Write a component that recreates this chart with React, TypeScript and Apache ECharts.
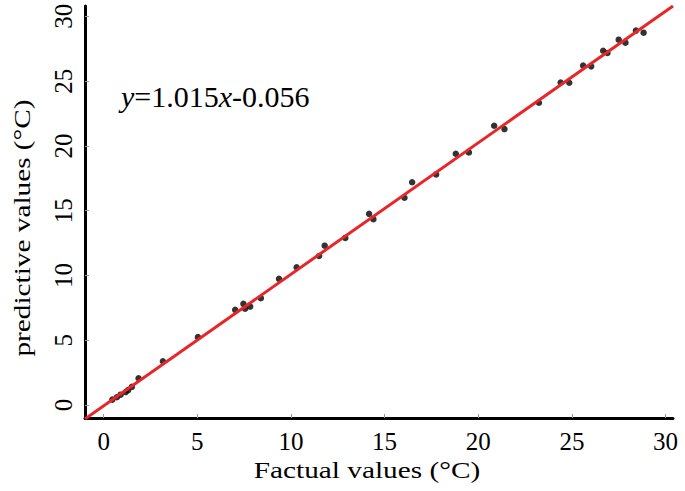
import React, { useEffect, useRef } from "react";
import * as echarts from "echarts";

const tickValues = [0, 5, 10, 15, 20, 25, 30];
const factual = [0.46, 0.7, 0.9, 1.17, 1.3, 1.5, 1.86, 3.16, 5.03, 7.02, 7.46, 7.55, 7.82, 8.39, 9.36, 10.3, 11.5, 11.8, 12.9, 14.17, 14.4, 16.06, 16.47, 17.75, 18.8, 19.5, 20.85, 21.4, 23.24, 24.4, 24.86, 25.6, 26.03, 26.67, 26.9, 27.5, 27.86, 28.42, 28.83];
const predictive = [0.42, 0.6, 0.8, 1.0, 1.15, 1.4, 2.07, 3.38, 5.24, 7.35, 7.81, 7.43, 7.6, 8.25, 9.74, 10.64, 11.5, 12.3, 12.9, 14.76, 14.35, 16.0, 17.2, 17.8, 19.4, 19.5, 21.56, 21.3, 23.33, 24.9, 24.88, 26.2, 26.14, 27.35, 27.17, 28.2, 27.97, 28.9, 28.74];
const slope = 1.015;
const intercept = -0.056;
const fitX = [-1, 30.4];
const equationParts = [
  { text: "y", italic: true },
  { text: "=1.015", italic: false },
  { text: "x", italic: true },
  { text: "-0.056", italic: false },
];

const SERIF = "Liberation Serif";

export default function App() {
  const ref = useRef<HTMLDivElement>(null);
  useEffect(() => {
    if (!ref.current) return;
    const chart = echarts.init(ref.current, undefined, { renderer: "svg" });
    const points = factual.map((x, i) => [x, predictive[i]]);
    const fit = fitX.map((x) => [x, slope * x + intercept]);
    const axisCommon = {
      axisLine: { show: true, onZero: false, lineStyle: { color: "#000", width: 3 } },
      axisTick: { show: true, inside: true, length: 4, lineStyle: { color: "#999", width: 1 }, customValues: tickValues },
      splitLine: { show: false },
    };

    let cursor = 121;
    const eqTexts = equationParts.map((p) => {
      const style: any = {
        text: p.text,
        fontFamily: SERIF,
        fontSize: 30,
        fill: "#000",
        textVerticalAlign: "middle",
      };
      if (p.italic) style.fontStyle = "italic";
      const w = new echarts.graphic.Text({ style }).getBoundingRect().width;
      const el = { type: "text", x: cursor, y: 96, style };
      cursor += w;
      return el;
    });

    chart.setOption({
      animation: false,
      backgroundColor: "#fff",
      textStyle: { fontFamily: SERIF },
      grid: { left: 85, right: 12, top: 6, bottom: 73, containLabel: false },
      xAxis: {
        type: "value",
        min: -1,
        max: 30.4,
        splitNumber: 6,
        ...axisCommon,
        axisLabel: {
          showMinLabel: false,
          showMaxLabel: false,
          fontFamily: SERIF,
          fontSize: 25,
          color: "#000",
          margin: 11,
        },
      },
      yAxis: {
        type: "value",
        min: -1,
        max: 30.8,
        splitNumber: 6,
        ...axisCommon,
        axisLabel: {
          showMinLabel: false,
          showMaxLabel: false,
          fontFamily: SERIF,
          fontSize: 25,
          color: "#000",
          margin: 9,
          rotate: 90,
        },
      },
      graphic: [
        {
          type: "text",
          x: 367,
          y: 470,
          scaleX: 1.22,
          style: {
            text: "Factual values (°C)",
            fontFamily: SERIF,
            fontSize: 24,
            fill: "#000",
            textAlign: "center",
            textVerticalAlign: "middle",
          },
        },
        {
          type: "text",
          x: 22,
          y: 228,
          rotation: Math.PI / 2,
          scaleX: 1.22,
          style: {
            text: "predictive values (°C)",
            fontFamily: SERIF,
            fontSize: 24,
            fill: "#000",
            textAlign: "center",
            textVerticalAlign: "middle",
          },
        },
        ...eqTexts,
      ],
      series: [
        {
          type: "scatter",
          data: points,
          symbol: "circle",
          symbolSize: 6.5,
          itemStyle: { color: "#000" },
          z: 2,
        },
        {
          type: "line",
          data: fit,
          symbol: "none",
          clip: true,
          lineStyle: { color: "#e8262a", width: 3 },
          z: 3,
        },
      ],
    });
    return () => chart.dispose();
  }, []);
  return (
    <div
      ref={ref}
      style={{ position: "fixed", left: 0, top: 0, width: 685, height: 491, background: "#fff" }}
    />
  );
}
